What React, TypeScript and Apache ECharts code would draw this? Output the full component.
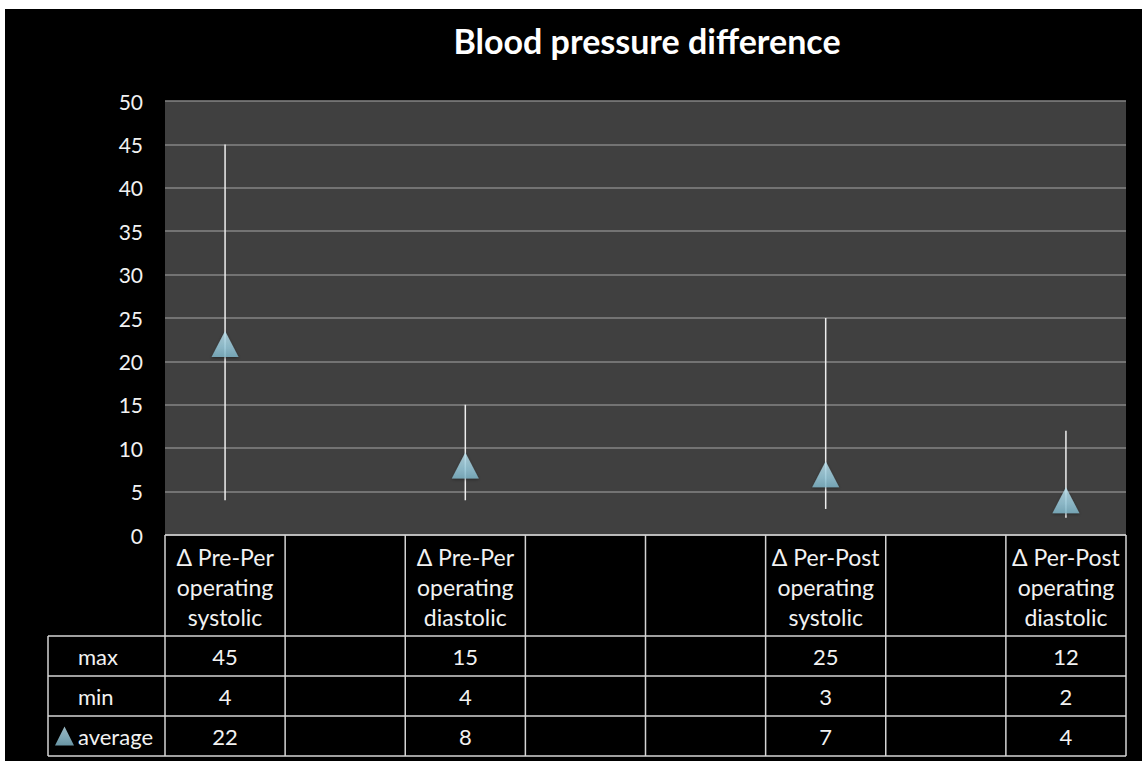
import React, { useEffect, useRef } from "react";
import * as echarts from "echarts";

const categories = [
  "Δ Pre-Per\noperating\nsystolic",
  "",
  "Δ Pre-Per\noperating\ndiastolic",
  "",
  "",
  "Δ Per-Post\noperating\nsystolic",
  "",
  "Δ Per-Post\noperating\ndiastolic",
];
const maxValues: (number | null)[] = [45, null, 15, null, null, 25, null, 12];
const minValues: (number | null)[] = [4, null, 4, null, null, 3, null, 2];
const avgValues: (number | null)[] = [22, null, 8, null, null, 7, null, 4];
const rowLabels = ["max", "min", "average"];
const yMin = 0;
const yMax = 50;
const yInterval = 5;
const titleText = "Blood pressure difference";

const FONT = "Lato, 'Noto Sans', sans-serif";
const TEXT = "#f2f2f2";
const LINE = "#d4d4d4";

// layout (chart coordinates)
const W = 1137;
const H = 752;
const GRID_LEFT = 160;
const GRID_RIGHT = 16;
const GRID_TOP = 92;
const GRID_BOTTOM = 226;
const HEADER_BOTTOM = 627;
const ROW_H = 40;
const LABEL_LEFT = 43;
const LABEL_TEXT_X = 73;
const TITLE_X = 637;

export default function App() {
  const ref = useRef<HTMLDivElement>(null);

  useEffect(() => {
    if (!ref.current) return;
    const chart = echarts.init(ref.current, undefined, { renderer: "svg" });

    const plotW = W - GRID_LEFT - GRID_RIGHT;
    const cellW = plotW / categories.length;
    const plotBottom = H - GRID_BOTTOM;
    const tableRight = GRID_LEFT + plotW;
    const tableBottom = HEADER_BOTTOM + ROW_H * rowLabels.length;

    const graphics: any[] = [];
    graphics.push({
      type: "line",
      z: 10,
      shape: { x1: GRID_LEFT, y1: plotBottom, x2: tableRight, y2: plotBottom },
      style: { stroke: LINE, lineWidth: 1.5 },
    });
    for (let r = 0; r <= rowLabels.length; r++) {
      const y = HEADER_BOTTOM + r * ROW_H;
      graphics.push({
        type: "line",
        z: 10,
        shape: { x1: LABEL_LEFT, y1: y, x2: tableRight, y2: y },
        style: { stroke: LINE, lineWidth: 1.5 },
      });
    }
    for (let c = 0; c <= categories.length; c++) {
      const x = GRID_LEFT + c * cellW;
      graphics.push({
        type: "line",
        z: 10,
        shape: { x1: x, y1: plotBottom, x2: x, y2: tableBottom },
        style: { stroke: LINE, lineWidth: 1.5 },
      });
    }
    graphics.push({
      type: "line",
      z: 10,
      shape: { x1: LABEL_LEFT, y1: HEADER_BOTTOM, x2: LABEL_LEFT, y2: tableBottom },
      style: { stroke: LINE, lineWidth: 1.5 },
    });
    rowLabels.slice(0, 2).forEach((lab, r) => {
      graphics.push({
        type: "text",
        z: 10,
        x: LABEL_TEXT_X,
        y: HEADER_BOTTOM + r * ROW_H + ROW_H / 2,
        style: {
          text: lab,
          fill: TEXT,
          font: `22px ${FONT}`,
          textAlign: "left",
          textVerticalAlign: "middle",
        },
      });
    });
    const rows = [maxValues, minValues, avgValues];
    rows.forEach((vals, r) => {
      vals.forEach((v, c) => {
        if (v == null) return;
        graphics.push({
          type: "text",
          z: 10,
          x: GRID_LEFT + (c + 0.5) * cellW,
          y: HEADER_BOTTOM + r * ROW_H + ROW_H / 2,
          style: {
            text: String(v),
            fill: TEXT,
            font: `22px ${FONT}`,
            textAlign: "center",
            textVerticalAlign: "middle",
          },
        });
      });
    });

    const rangeData = categories
      .map((_, i) => (maxValues[i] == null ? null : [i, minValues[i], maxValues[i]]))
      .filter((d) => d != null);
    const avgData = categories
      .map((_, i) => (avgValues[i] == null ? null : [i, avgValues[i]]))
      .filter((d) => d != null);

    const triColor = new echarts.graphic.LinearGradient(0, 0, 0, 1, [
      { offset: 0, color: "#c2e6f2" },
      { offset: 0.6, color: "#9dd0e2" },
      { offset: 1, color: "#82b9cc" },
    ]);

    chart.setOption({
      animation: false,
      backgroundColor: "#000000",
      title: {
        text: titleText,
        left: TITLE_X,
        top: 9,
        textAlign: "center",
        textStyle: { color: "#ffffff", fontSize: 34, fontWeight: "bold", fontFamily: FONT },
      },
      legend: {
        data: ["average"],
        left: LABEL_LEFT + 7,
        top: HEADER_BOTTOM + 2 * ROW_H + ROW_H / 2 - 11,
        padding: 0,
        icon: "triangle",
        itemWidth: 19,
        itemHeight: 19,
        itemGap: 4,
        textStyle: { color: TEXT, fontSize: 22, fontFamily: FONT, padding: [0, 0, 0, -1] },
      },
      grid: {
        left: GRID_LEFT,
        right: GRID_RIGHT,
        top: GRID_TOP,
        bottom: GRID_BOTTOM,
        show: true,
        backgroundColor: "#404040",
        borderWidth: 0,
      },
      xAxis: {
        type: "category",
        data: categories,
        boundaryGap: true,
        axisLine: { show: false },
        axisTick: { show: false },
        splitLine: { show: false },
        axisLabel: {
          interval: 0,
          color: TEXT,
          fontSize: 23,
          lineHeight: 30,
          fontFamily: FONT,
          margin: 7,
          align: "center",
        },
      },
      yAxis: {
        type: "value",
        min: yMin,
        max: yMax,
        interval: yInterval,
        axisLine: { show: false },
        axisTick: { show: false },
        axisLabel: { color: TEXT, fontSize: 21, fontFamily: FONT, margin: 22 },
        splitLine: { show: true, lineStyle: { color: "#858585", width: 1.5 } },
      },
      graphic: graphics,
      series: [
        {
          type: "custom",
          name: "range",
          z: 2,
          data: rangeData,
          renderItem: (params: any, api: any) => {
            const x = api.value(0);
            const lo = api.coord([x, api.value(1)]);
            const hi = api.coord([x, api.value(2)]);
            return {
              type: "line",
              shape: { x1: lo[0], y1: lo[1], x2: hi[0], y2: hi[1] },
              style: { stroke: "#eeeeee", lineWidth: 1.5 },
            };
          },
        },
        {
          type: "scatter",
          name: "average",
          z: 3,
          symbol: "triangle",
          symbolSize: [27, 26],
          data: avgData,
          itemStyle: {
            color: triColor,
            shadowColor: "rgba(0,0,0,0.5)",
            shadowBlur: 3,
            shadowOffsetY: 1,
          },
        },
      ],
    });

    return () => chart.dispose();
  }, []);

  return (
    <div
      ref={ref}
      style={{ position: "absolute", left: 5, top: 9, width: W, height: H }}
    />
  );
}
